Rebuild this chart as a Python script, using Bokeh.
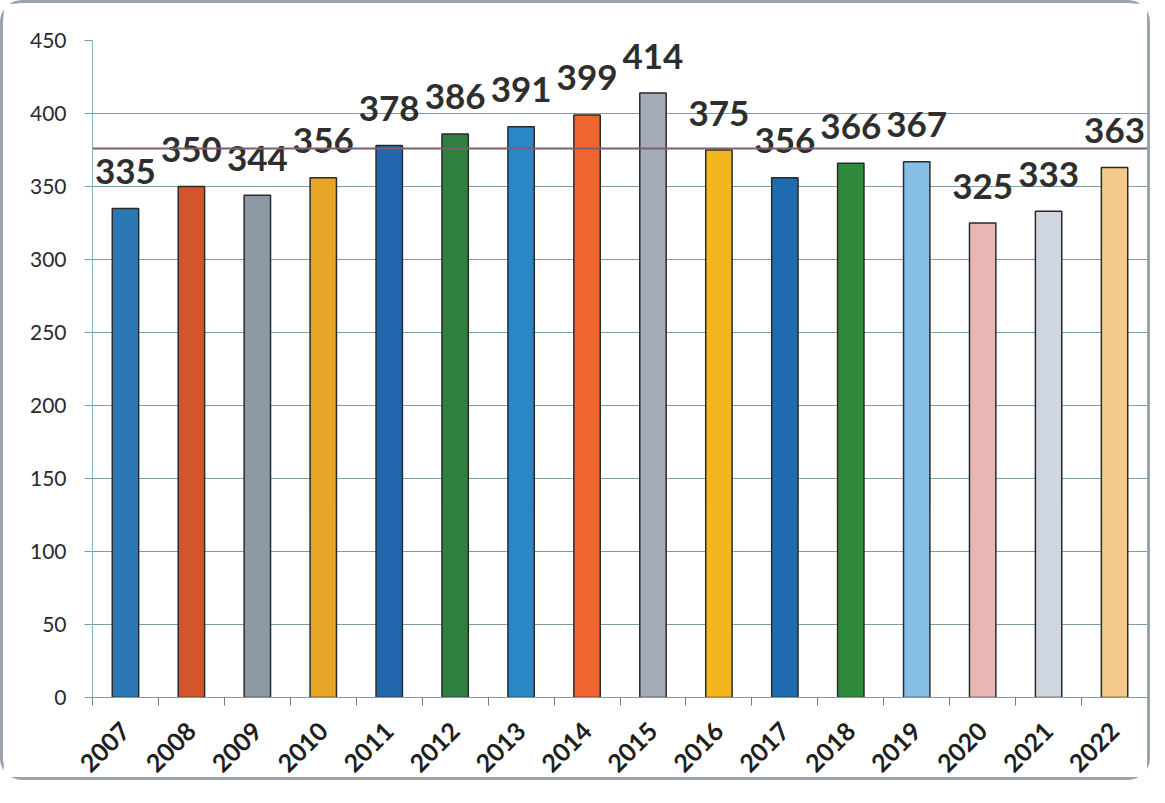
import math
from bokeh.plotting import figure
from bokeh.models import (ColumnDataSource, Range1d, LinearAxis, FixedTicker, Span)
from bokeh.core.properties import value
from bokeh.embed import file_html
from bokeh.resources import INLINE

# ---- data ----
years = ["2007", "2008", "2009", "2010", "2011", "2012", "2013", "2014",
         "2015", "2016", "2017", "2018", "2019", "2020", "2021", "2022"]
counts = [335, 350, 344, 356, 378, 386, 391, 399, 414, 375, 356, 366, 367, 325, 333, 363]
bar_colors = ["#2b78b5", "#d2552c", "#8e99a6", "#e6a524", "#2266ad", "#2f7f3f",
              "#2b86c6", "#ef6530", "#a3acb8", "#f3b61e", "#1f6bb0", "#2f8b3b",
              "#86bfe6", "#e9b6b4", "#cfd6df", "#f4c98a"]
y_ticks = [0, 50, 100, 150, 200, 250, 300, 350, 400, 450]
ref_line = 376

centers = [i + 0.5 for i in range(len(years))]
bounds = list(range(len(years) + 1))

src = ColumnDataSource(dict(x=centers, top=counts, color=bar_colors,
                            label=[str(v) for v in counts]))

p = figure(width=1150, height=780, output_backend="svg", toolbar_location=None,
           x_range=Range1d(0, len(years)), y_range=Range1d(y_ticks[0], y_ticks[-1]),
           x_axis_location=None, min_border_left=89, min_border_right=6,
           min_border_top=37, min_border_bottom=86)
p.styles = {"border": "3px solid #9aa3ac", "border-radius": "22px"}
p.outline_line_color = None
p.background_fill_color = "white"
p.border_fill_color = "white"

# grid / y axis
grid_col = "#7f9ea6"
p.xgrid.visible = False
p.ygrid.ticker = FixedTicker(ticks=y_ticks)
p.ygrid.grid_line_color = grid_col
p.ygrid.grid_line_width = 1

ya = p.yaxis[0]
ya.ticker = FixedTicker(ticks=y_ticks)
ya.axis_line_color = "#8fb3c0"
ya.major_tick_line_color = grid_col
ya.major_tick_out = 8
ya.major_tick_in = 0
ya.minor_tick_line_color = None
ya.major_label_standoff = 18
ya.major_label_text_font = "Lato"
ya.major_label_text_font_size = "21px"
ya.major_label_text_color = "#2a2a2a"

# x axis: boundary ticks (no labels)
xa_ticks = LinearAxis(ticker=FixedTicker(ticks=bounds),
                      major_label_overrides={b: "" for b in bounds})
xa_ticks.axis_line_color = "#8a9aa0"
xa_ticks.major_tick_line_color = "#6f7c82"
xa_ticks.major_tick_out = 8
xa_ticks.major_tick_in = 0
xa_ticks.minor_tick_line_color = None
xa_ticks.major_label_standoff = 0
p.add_layout(xa_ticks, "below")

# x axis: year labels at bar centres
xa_lab = LinearAxis(ticker=FixedTicker(ticks=centers),
                    major_label_overrides={c: y for c, y in zip(centers, years)})
xa_lab.axis_line_color = None
xa_lab.major_tick_line_color = None
xa_lab.minor_tick_line_color = None
xa_lab.major_label_orientation = math.pi / 4
xa_lab.major_label_standoff = 15
xa_lab.major_label_text_font = "Lato"
xa_lab.major_label_text_font_style = "bold"
xa_lab.major_label_text_font_size = "25px"
xa_lab.major_label_text_color = "#1e1e1e"
p.add_layout(xa_lab, "below")

# bars
p.vbar(x="x", top="top", bottom=0, width=0.4, source=src,
       fill_color="color", line_color="#2a2a2a", line_width=1.5)

# reference line
p.add_layout(Span(location=ref_line, dimension="width",
                  line_color="#7d5f73", line_width=2))

# value labels
p.text(x="x", y="top", text="label", source=src, text_align="center",
       text_baseline="alphabetic", y_offset=-37,
       text_font=value("Lato"), text_font_style="bold",
       text_font_size="35px", text_color="#2e2e2e")

open("out.html", "w").write(file_html(p, INLINE))
